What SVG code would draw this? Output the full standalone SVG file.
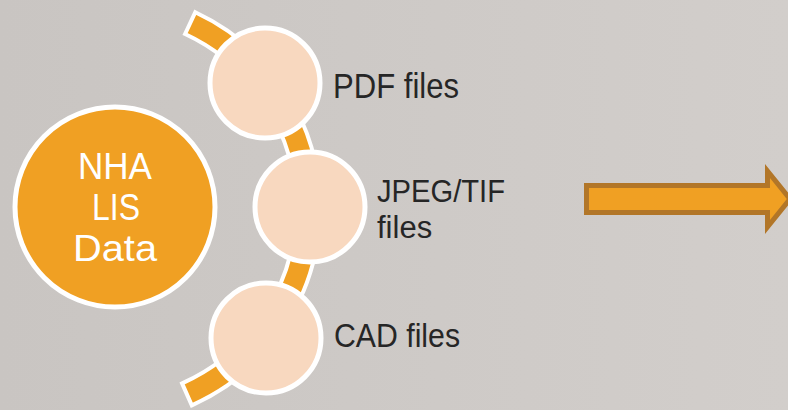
<svg xmlns="http://www.w3.org/2000/svg" width="788" height="410" viewBox="0 0 788 410">
  <defs>
    <linearGradient id="bg" x1="0" y1="0" x2="1" y2="0">
      <stop offset="0" stop-color="#C9C5C2"/>
      <stop offset="1" stop-color="#D2CECB"/>
    </linearGradient>
  </defs>
  <style>
    .item { fill: #F8D8BF; stroke: #FFFFFF; stroke-width: 5; }
    .main { fill: #F0A023; stroke: #FFFFFF; stroke-width: 5; }
    .lbl { font-family: "Liberation Sans", Arial, sans-serif; fill: #262626; }
    .mainlbl { font-family: "Liberation Sans", Arial, sans-serif; fill: #FFFFFF; font-size: 36px; text-anchor: middle; }
  </style>
  <rect x="0" y="0" width="788" height="410" fill="url(#bg)"/>

  <g id="connectors">
    <path id="band" d="M 185.1 34 A 192 192 0 0 1 182.1 383.4 L 191.8 405.3 A 216 216 0 0 0 195.3 12.2 Z" fill="#F0A023" stroke="#FFFFFF" stroke-width="4" stroke-linejoin="miter"/>
    <polygon id="arrow" points="586.5,185.5 767.5,185.5 767.5,171 790,199 767.5,227 767.5,212.5 586.5,212.5" fill="#F0A023" stroke="#B27628" stroke-width="5"/>
  </g>

  <g id="node-main">
    <circle class="main" cx="115" cy="207" r="100"/>
    <text class="mainlbl" x="115" y="179" textLength="74" lengthAdjust="spacingAndGlyphs">NHA</text>
    <text class="mainlbl" x="116" y="220" textLength="48" lengthAdjust="spacingAndGlyphs">LIS</text>
    <text class="mainlbl" x="115" y="261" textLength="84" lengthAdjust="spacingAndGlyphs">Data</text>
  </g>

  <g id="node-pdf">
    <circle class="item" cx="265" cy="83" r="55"/>
    <text class="lbl" x="333" y="98" font-size="35" textLength="126" lengthAdjust="spacingAndGlyphs">PDF files</text>
  </g>

  <g id="node-jpeg">
    <circle class="item" cx="310" cy="207" r="55"/>
    <text class="lbl" x="377" y="202" font-size="31" textLength="128" lengthAdjust="spacingAndGlyphs">JPEG/TIF</text>
    <text class="lbl" x="377" y="238" font-size="31">files</text>
  </g>

  <g id="node-cad">
    <circle class="item" cx="266" cy="338" r="55"/>
    <text class="lbl" x="334" y="347" font-size="34" textLength="126" lengthAdjust="spacingAndGlyphs">CAD files</text>
  </g>
</svg>
